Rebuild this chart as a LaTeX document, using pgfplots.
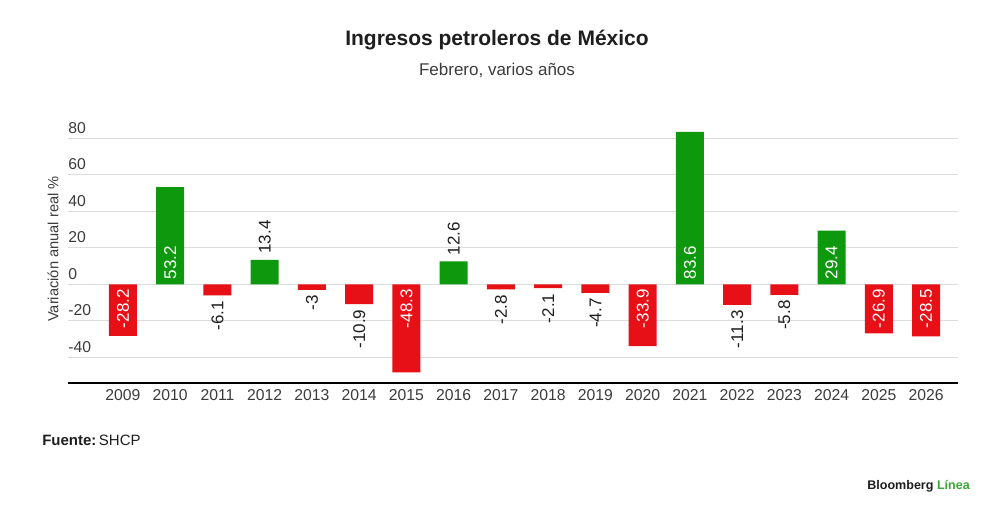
\documentclass[border=0pt]{standalone}
\usepackage{pgfplots}
\pgfplotsset{compat=1.18}
\usepackage{fontspec}
\setmainfont{Liberation Sans}
\definecolor{bargreen}{RGB}{14,152,14}
\definecolor{barred}{RGB}{230,16,22}
\definecolor{txt}{RGB}{30,30,30}
\definecolor{ticktxt}{RGB}{60,60,60}
\definecolor{gridc}{RGB}{220,220,220}
\definecolor{logogreen}{RGB}{58,169,53}
\begin{document}
\begin{tikzpicture}
\useasboundingbox (0,0) rectangle (750pt,387pt);
\fill[white] (0,0) rectangle (750pt,387pt);
\begin{axis}[
  at={(51pt,99.5pt)}, anchor=south west,
  scale only axis, width=667.5pt, height=190.6pt,
  xmin=-1.164, xmax=17.675, ymin=-54.25, ymax=85,
  clip=false,
  axis x line*=bottom, axis y line*=left,
  y axis line style={draw=none},
  x axis line style={black, line width=1.5pt},
  major tick length=0pt,
  xtick={0,...,17},
  xticklabels={2009,2010,2011,2012,2013,2014,2015,2016,2017,2018,2019,2020,2021,2022,2023,2024,2025,2026},
  ytick={-40,-20,0,20,40,60,80},
  yticklabels={-40,-20,0,20,40,60,80},
  ymajorgrids, grid style={draw=gridc, line width=0.8pt},
  xticklabel style={font=\fontsize{11.8}{12}\selectfont, text=ticktxt, anchor=north, inner sep=0pt, yshift=-4.5pt},
  yticklabel style={font=\fontsize{11.8}{12}\selectfont, text=ticktxt, anchor=south west, inner sep=0pt, yshift=3.5pt, xshift=0pt},
]
\addplot[ybar, bar width=21pt, bar shift=0pt, fill=bargreen, draw=none]
  coordinates {(1,53.2) (3,13.4) (7,12.6) (12,83.6) (15,29.4)};
\addplot[ybar, bar width=21pt, bar shift=0pt, fill=barred, draw=none]
  coordinates {(0,-28.2) (2,-6.1) (4,-3) (5,-10.9) (6,-48.3) (8,-2.8) (9,-2.1) (10,-4.7) (11,-33.9) (13,-11.3) (14,-5.8) (16,-26.9) (17,-28.5)};
% labels inside positive bars
\addplot[only marks, mark=*, mark size=0pt, mark options={draw=none,fill=none},
  point meta=explicit symbolic, nodes near coords,
  nodes near coords style={rotate=90, anchor=west, text=white, inner sep=3.5pt, font=\fontsize{12.75}{13}\selectfont}]
  coordinates {(1,0) [53.2] (12,0) [83.6] (15,0) [29.4]};
% labels inside negative bars
\addplot[only marks, mark=*, mark size=0pt, mark options={draw=none,fill=none},
  point meta=explicit symbolic, nodes near coords,
  nodes near coords style={rotate=90, anchor=east, text=white, inner sep=3.5pt, font=\fontsize{12.75}{13}\selectfont}]
  coordinates {(0,0) [-28.2] (6,0) [-48.3] (11,0) [-33.9] (16,0) [-26.9] (17,0) [-28.5]};
% labels above small positive bars
\addplot[only marks, mark=*, mark size=0pt, mark options={draw=none,fill=none},
  point meta=explicit symbolic, nodes near coords,
  nodes near coords style={rotate=90, anchor=west, text=txt, inner sep=4.5pt, font=\fontsize{12.75}{13}\selectfont}]
  coordinates {(3,13.4) [13.4] (7,12.6) [12.6]};
% labels below small negative bars
\addplot[only marks, mark=*, mark size=0pt, mark options={draw=none,fill=none},
  point meta=explicit symbolic, nodes near coords,
  nodes near coords style={rotate=90, anchor=east, text=txt, inner sep=4pt, font=\fontsize{12.75}{13}\selectfont}]
  coordinates {(2,-6.1) [-6.1] (4,-3) [-3] (5,-10.9) [-10.9] (8,-2.8) [-2.8] (9,-2.1) [-2.1] (10,-4.7) [-4.7] (13,-11.3) [-11.3] (14,-5.8) [-5.8]};
\end{axis}
\node[text=txt, font=\fontsize{15.75}{18}\selectfont\bfseries] at (372.75pt,357pt) {Ingresos petroleros de México};
\node[text=ticktxt, font=\fontsize{12.75}{15}\selectfont] at (372.75pt,334pt) {Febrero, varios años};
\node[text=ticktxt, rotate=90, font=\fontsize{11}{13}\selectfont] at (39.75pt,200.25pt) {Variación anual real \%};
\node[anchor=west, text=txt, font=\fontsize{11.25}{13}\selectfont, inner sep=0pt] at (31.5pt,57pt) {\textbf{Fuente:}\,SHCP};
\node[anchor=east, font=\fontsize{9.4}{11}\selectfont\bfseries, inner sep=0pt] at (727.5pt,22.5pt) {\textcolor{txt}{Bloomberg} \textcolor{logogreen}{Línea}};
\end{tikzpicture}
\end{document}
